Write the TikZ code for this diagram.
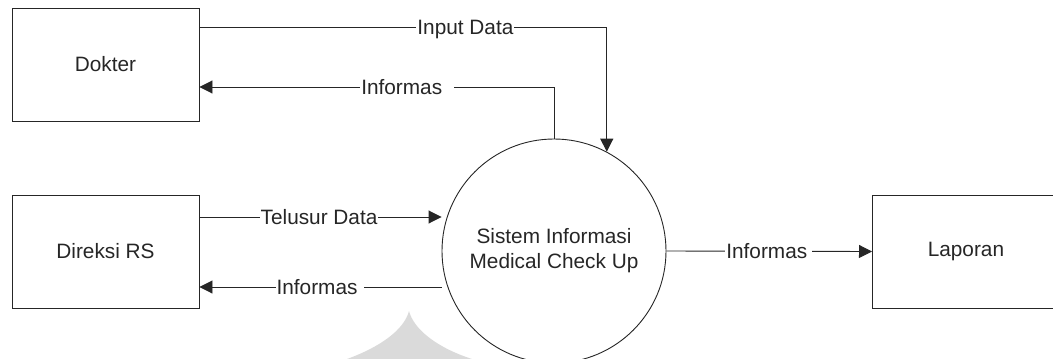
\documentclass[tikz,border=0pt]{standalone}
\usepackage{fontspec}
\setmainfont{Liberation Sans}
\usetikzlibrary{arrows.meta}

\definecolor{ink}{HTML}{262626}
\definecolor{emblemgray}{HTML}{DADADA}

\tikzset{
  entity/.style={draw=ink, line width=0.9pt, rectangle, minimum width=187pt,
    minimum height=113pt, inner sep=0pt, text=ink},
  process/.style={draw=ink, line width=0.9pt, circle, minimum size=224pt,
    inner sep=0pt, align=center, text=ink},
  flow/.style={draw=ink, line width=0.9pt, -{Triangle[length=13pt,width=13pt]}},
  lbl/.style={fill=white, inner sep=1pt, text=ink, text height=14.7pt,
    text depth=0pt, anchor=center},
}

\begin{document}
\begin{tikzpicture}[x=1pt, y=-1pt, font=\fontsize{20.8}{25}\selectfont]
  \useasboundingbox (0,0) rectangle (1053,359);

  % faint emblem in the lower margin
  \fill[emblemgray] (347,362) -- (347,359) .. controls (380,347) and (404,330) .. (409,311)
    .. controls (414,330) and (438,348) .. (472,359) -- (472,362) -- cycle;

  % external entities and the process
  \node[entity] (dok) at (105.5,64.5) {Dokter};
  \node[entity] (dir) at (105.5,251.5) {Direksi RS};
  \node[entity, anchor=west] (lap) at (872,251.5) {Laporan};
  \node[process] (sys) at (554,251) {Sistem Informasi\\Medical Check Up};

  % levels of the horizontal flows
  \coordinate (inY)  at (0,27);
  \coordinate (outY) at (0,87);
  \coordinate (telY) at (0,217);
  \coordinate (infY) at (0,287);

  % data flows
  \draw[flow] (dok.east |- inY)
    -- node[lbl, pos=0.653] {Input Data} (sys.62.9 |- inY) -- (sys.62.9);
  \draw[flow] (sys.north) -- (sys.north |- outY)
    -- node[lbl, pos=0.414] {Informas\kern11pt} (dok.east |- outY);
  \draw[flow] (dir.east |- telY)
    -- node[lbl, pos=0.494] {Telusur Data} (sys.west |- telY);
  \draw[flow] (sys.west |- infY)
    -- node[lbl, pos=0.502] {Informas\kern6pt} (dir.east |- infY);
  \draw[flow] (sys.east)
    -- node[lbl, pos=0.498] {Informas\kern4pt} (lap.west);
\end{tikzpicture}
\end{document}
